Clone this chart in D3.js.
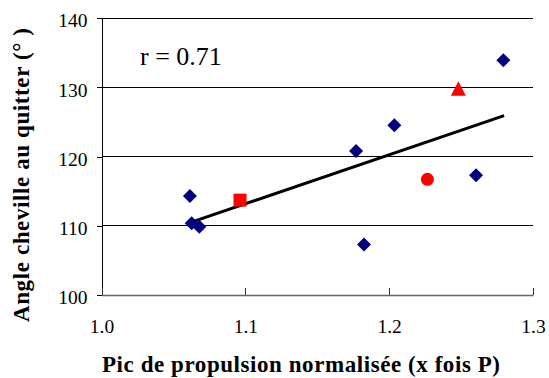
<!DOCTYPE html>
<html lang="fr">
<head>
<meta charset="UTF-8">
<title>Angle cheville</title>
<script src="https://d3js.org/d3.v7.min.js"></script>
<style>
html, body { margin: 0; padding: 0; background: #fff; }
svg { display: block; }
svg text { font-family: "Liberation Serif", "DejaVu Serif", "Times New Roman", serif !important; }
</style>
</head>
<body>
<svg id="canvas"></svg>
<script>
// diamonds (navy)
let diamondX = [1.0615, 1.0627, 1.068, 1.177, 1.2036, 1.2794, 1.1825, 1.2604]
let diamondY = [114.3, 110.35, 109.86, 120.8, 124.5, 133.9, 107.3, 117.3]
// red markers
let squareX = [1.0963], squareY = [113.7]
let circleX = [1.2266], circleY = [116.7]
let triangleX = [1.2481], triangleY = [129.8]
// trend line end points
let trendX = [1.0615, 1.2799]
let trendY = [110.44, 125.9]

let xTicks = [1.0, 1.1, 1.2, 1.3]
let yTicks = [100, 110, 120, 130, 140]

let width = 549
let height = 378
let plotLeft = 101.5, plotRight = 533, plotTop = 18, plotBottom = 295

let svg = d3.select('svg').attr('width', width).attr('height', height)

let xScale = d3.scaleLinear().domain([1.0, 1.3]).range([plotLeft, plotRight])
let yScale = d3.scaleLinear().domain([100, 140]).range([plotBottom, plotTop])

// gridlines
svg.append('g')
    .selectAll('line')
    .data(yTicks)
    .enter()
    .append('line')
    .attr('x1', plotLeft)
    .attr('x2', plotRight)
    .attr('y1', d => yScale(d))
    .attr('y2', d => yScale(d))
    .attr('stroke', '#000')
    .attr('stroke-width', 1)
    .attr('shape-rendering', 'crispEdges')

// y axis
let yAxis = d3.axisLeft(yScale).tickValues(yTicks).tickSize(5).tickPadding(9).tickFormat(d3.format('d'))
let gy = svg.append('g')
    .attr('transform', 'translate(' + plotLeft + ',0)')
    .call(yAxis)
gy.attr('font-family', null)
gy.select('.domain').attr('stroke', '#000').attr('shape-rendering', 'crispEdges')
gy.selectAll('.tick line').attr('shape-rendering', 'crispEdges')
gy.selectAll('.tick text').attr('font-size', 19.5).attr('fill', '#000').attr('dy', '0.45em')

// x axis (ticks inside)
let xAxis = d3.axisBottom(xScale).tickValues(xTicks).tickSize(-7).tickSizeOuter(0).tickFormat(d3.format('.1f'))
let gx = svg.append('g')
    .attr('transform', 'translate(0,' + plotBottom + ')')
    .call(xAxis)
gx.attr('font-family', null)
gx.select('.domain').attr('stroke', '#666').attr('stroke-width', 1.5)
gx.selectAll('.tick line').attr('stroke', '#333').attr('shape-rendering', 'crispEdges')
gx.selectAll('.tick text').attr('font-size', 19.5).attr('fill', '#000').attr('y', 38).attr('dy', 0)

// trend line
svg.append('line')
    .attr('x1', xScale(trendX[0]))
    .attr('y1', yScale(trendY[0]))
    .attr('x2', xScale(trendX[1]))
    .attr('y2', yScale(trendY[1]))
    .attr('stroke', '#000')
    .attr('stroke-width', 3)

// diamonds
let diamonds = diamondX.map((x, i) => [x, diamondY[i]])
svg.append('g')
    .selectAll('path')
    .data(diamonds)
    .enter()
    .append('path')
    .attr('d', 'M0,-7 L7,0 L0,7 L-7,0 Z')
    .attr('transform', d => 'translate(' + xScale(d[0]) + ',' + yScale(d[1]) + ')')
    .attr('fill', '#000080')

// red square
svg.selectAll('rect.sq')
    .data(squareX.map((x, i) => [x, squareY[i]]))
    .enter()
    .append('rect')
    .attr('class', 'sq')
    .attr('x', d => xScale(d[0]) - 6.5)
    .attr('y', d => yScale(d[1]) - 6.5)
    .attr('width', 13)
    .attr('height', 13)
    .attr('fill', '#ff0000')

// red circle
svg.selectAll('circle.ci')
    .data(circleX.map((x, i) => [x, circleY[i]]))
    .enter()
    .append('circle')
    .attr('class', 'ci')
    .attr('cx', d => xScale(d[0]))
    .attr('cy', d => yScale(d[1]))
    .attr('r', 6.5)
    .attr('fill', '#ff0000')

// red triangle
svg.selectAll('path.tri')
    .data(triangleX.map((x, i) => [x, triangleY[i]]))
    .enter()
    .append('path')
    .attr('class', 'tri')
    .attr('d', 'M0,-7.5 L7.5,7 L-7.5,7 Z')
    .attr('transform', d => 'translate(' + xScale(d[0]) + ',' + yScale(d[1]) + ')')
    .attr('fill', '#ff0000')

// r value
svg.append('text')
    .attr('x', 140)
    .attr('y', 65)
    .attr('font-size', 26)
    .text('r = 0.71')

// axis titles
svg.append('text')
    .attr('x', 301)
    .attr('y', 372)
    .attr('text-anchor', 'middle')
    .attr('font-size', 23)
    .attr('font-weight', 'bold')
    .attr('textLength', 398)
    .attr('lengthAdjust', 'spacing')
    .text('Pic de propulsion normalisée (x fois P)')

svg.append('text')
    .attr('transform', 'translate(29,175) rotate(-90)')
    .attr('text-anchor', 'middle')
    .attr('font-size', 23)
    .attr('font-weight', 'bold')
    .attr('textLength', 294)
    .attr('lengthAdjust', 'spacing')
    .text('Angle cheville au quitter (° )')
</script>
</body>
</html>
